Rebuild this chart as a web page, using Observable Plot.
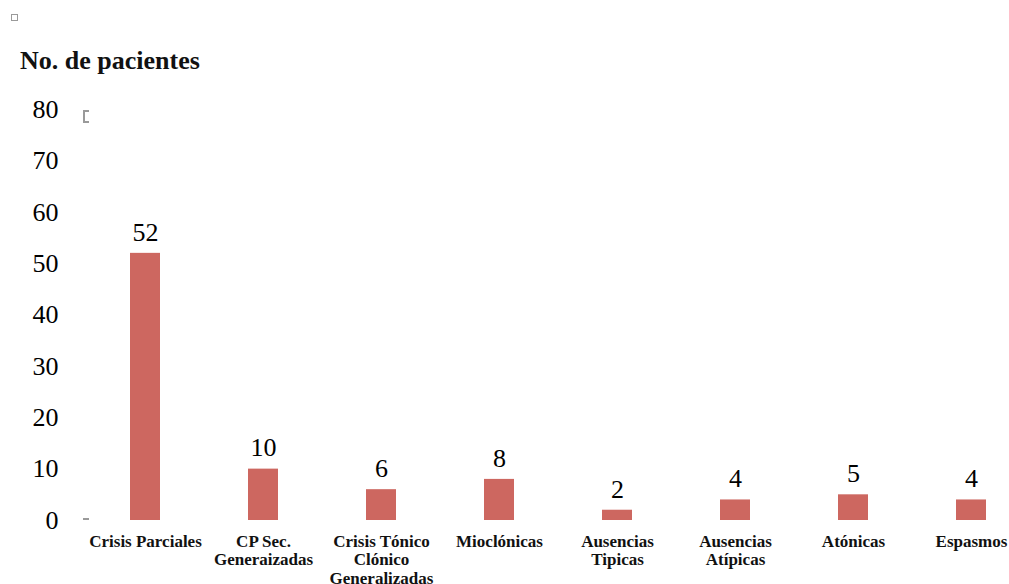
<!DOCTYPE html>
<html>
<head>
<meta charset="utf-8">
<script src="https://cdn.jsdelivr.net/npm/d3@7"></script>
<script src="https://cdn.jsdelivr.net/npm/@observablehq/plot@0.6"></script>
<style>
  html, body { margin: 0; padding: 0; background: #fff; }
  #wrap { position: relative; width: 1009px; height: 584px; overflow: hidden; font-family: "Liberation Serif", serif; }
  #marker { position: absolute; left: 11px; top: 14px; width: 5px; height: 5px; border: 1.5px solid #9a9a9a; }
  #bracket { position: absolute; left: 83px; top: 110px; width: 4px; height: 9px; border: 2px solid #9a9a9a; border-right: none; }
  #dash { position: absolute; left: 83px; top: 518px; width: 6px; height: 1.5px; background: #9a9a9a; }
  #title { position: absolute; left: 20px; top: 48px; margin: 0; font-size: 26px; font-weight: bold; color: #111; line-height: 1; }
  #chart { position: absolute; left: 0; top: 85px; }
</style>
</head>
<body>
<div id="wrap">
  <div id="marker"></div>
  <h2 id="title">No. de pacientes</h2>
  <div id="chart"></div>
  <div id="bracket"></div>
  <div id="dash"></div>
</div>
<script>
// Seizure types (tick labels, with line breaks) and number of patients
const categories = [
  "Crisis Parciales",
  "CP Sec.\nGeneraizadas",
  "Crisis Tónico\nClónico\nGeneralizadas",
  "Mioclónicas",
  "Ausencias\nTipicas",
  "Ausencias\nAtípicas",
  "Atónicas",
  "Espasmos"
];
const patients = [52, 10, 6, 8, 2, 4, 5, 4];
const yTicks = [0, 10, 20, 30, 40, 50, 60, 70, 80];

const rows = categories.map((c, i) => ({category: c, value: patients[i]}));

const barColor = "#cd6760";

const chart = Plot.plot({
  width: 1009,
  height: 499,
  marginTop: 24,
  marginBottom: 64,
  marginLeft: 82,
  marginRight: 0,
  style: {fontFamily: "Liberation Serif, serif", color: "#000", background: "transparent"},
  x: {domain: categories, range: [82.6, 1032.2], paddingInner: 0.75, paddingOuter: 0.375, axis: null},
  y: {domain: [0, 80], axis: null},
  marks: [
    Plot.axisY(yTicks, {tickSize: 0, tickPadding: 24, fontSize: 26, tickFormat: d => String(d), anchor: "left", label: null}),
    Plot.barY(rows, {x: "category", y: "value", fill: barColor}),
    Plot.text(rows, {x: "category", y: "value", text: d => String(d.value), dy: -21, fontSize: 26, fill: "#000"}),
    Plot.text(rows, {
      x: "category",
      frameAnchor: "bottom",
      lineAnchor: "top",
      dy: 13,
      text: "category",
      fontSize: 17,
      fontWeight: "bold",
      lineHeight: 1.1,
      fill: "#111"
    })
  ]
});

document.getElementById("chart").appendChild(chart);
</script>
</body>
</html>
